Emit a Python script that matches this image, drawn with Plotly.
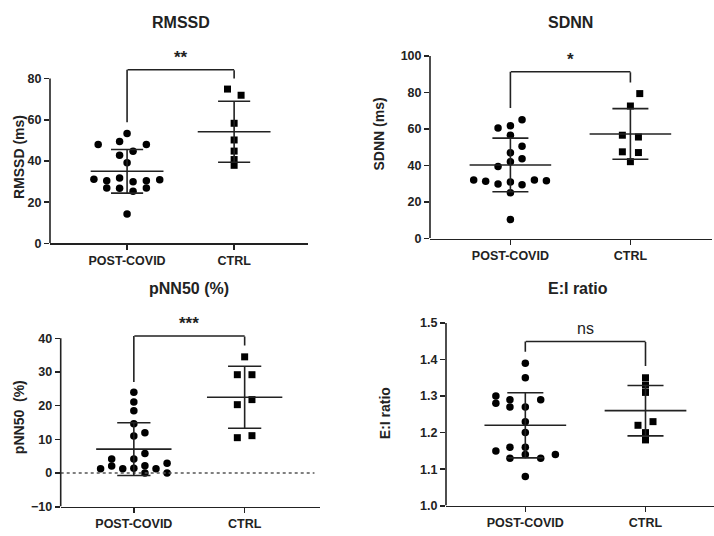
import plotly.graph_objects as go

# ---------------- data ----------------
groups = ["POST-COVID", "CTRL"]

# RMSSD (ms)
rmssd_post = [53.4, 49.4, 48.0, 48.0, 44.7, 42.8, 39.1, 31.2, 30.4, 31.7, 29.9, 30.4, 30.9, 26.9, 26.8, 25.3, 26.9, 14.3]
rmssd_post_jit = [0, -0.07, -0.27, 0.18, 0.056, -0.07, 0, -0.31, -0.19, -0.07, 0.056, 0.18, 0.305, -0.19, -0.07, 0.056, 0.18, 0]
rmssd_ctrl = [74.9, 71.9, 58.3, 50.2, 44.8, 40.7, 37.9]
rmssd_ctrl_jit = [-0.062, 0.065, 0, 0, 0, 0, 0]
rmssd_mean = [35.0, 54.2]
rmssd_sd = [10.6, 14.8]

# SDNN (ms)
sdnn_post = [65.1, 60.6, 61.8, 56.6, 50.5, 47.0, 43.7, 42.1, 39.4, 32.1, 31.4, 29.9, 31.0, 29.4, 32.1, 31.7, 25.1, 10.4]
sdnn_post_jit = [0.097, -0.103, 0, 0, 0.097, 0, 0.097, 0, -0.103, -0.306, -0.206, -0.103, 0, 0.097, 0.2, 0.3, 0, 0]
sdnn_ctrl = [79.4, 72.6, 56.6, 55.6, 47.5, 47.1, 42.1]
sdnn_ctrl_jit = [0.078, 0, -0.067, 0.067, -0.067, 0.067, 0]
sdnn_mean = [40.3, 57.3]
sdnn_sd = [14.7, 13.85]

# pNN50 (%)
pnn_post = [24.0, 21.1, 18.5, 14.6, 12.0, 11.0, 5.8, 4.2, 4.2, 2.1, 2.2, 2.9, 1.3, 1.3, 1.4, 1.3, 0.0, 0.0]
pnn_post_jit = [0, 0, 0, 0, 0.10, 0, 0.10, -0.20, 0, -0.20, 0.10, 0.30, -0.30, -0.10, 0, 0.20, 0.10, 0.30]
pnn_ctrl = [34.5, 29.2, 29.2, 21.8, 20.3, 10.5, 11.1]
pnn_ctrl_jit = [0, -0.066, 0.066, 0.066, -0.066, -0.066, 0.066]
pnn_mean = [7.1, 22.5]
pnn_sd = [7.85, 9.2]

# E:I ratio
ei_post = [1.39, 1.35, 1.30, 1.28, 1.29, 1.27, 1.27, 1.29, 1.23, 1.20, 1.15, 1.16, 1.16, 1.13, 1.14, 1.13, 1.14, 1.08]
ei_post_jit = [0, 0, -0.245, -0.245, -0.128, -0.128, 0, 0.128, 0, 0, -0.245, -0.128, 0, -0.128, 0, 0.128, 0.25, 0]
ei_ctrl = [1.35, 1.33, 1.31, 1.22, 1.23, 1.20, 1.18]
ei_ctrl_jit = [0, 0, 0, -0.0625, 0.0625, 0, 0]
ei_mean = [1.22, 1.26]
ei_sd = [0.089, 0.069]

titles = ["RMSSD", "SDNN", "pNN50 (%)", "E:I ratio"]
ytitles = ["RMSSD (ms)", "SDNN (ms)", "pNN50\u00a0 (%)", "E:I ratio"]
sig_labels = ["**", "*", "***", "ns"]
# bracket: [left leg bottom, top, right leg bottom]
brackets = [[58.6, 84.3, 80.0], [71.3, 91.4, 85.5], [26.9, 40.7, 37.9], [1.42, 1.449, 1.382]]
sig_y = [90.0, 98.0, 44.5, 1.484]
yticks = [[0, 20, 40, 60, 80], [0, 20, 40, 60, 80, 100], [-10, 0, 10, 20, 30, 40],
          [1.0, 1.1, 1.2, 1.3, 1.4, 1.5]]
yrange_top = [95, 102, 47, 1.52]

panels = [
    (rmssd_post, rmssd_post_jit, rmssd_ctrl, rmssd_ctrl_jit, rmssd_mean, rmssd_sd),
    (sdnn_post, sdnn_post_jit, sdnn_ctrl, sdnn_ctrl_jit, sdnn_mean, sdnn_sd),
    (pnn_post, pnn_post_jit, pnn_ctrl, pnn_ctrl_jit, pnn_mean, pnn_sd),
    (ei_post, ei_post_jit, ei_ctrl, ei_ctrl_jit, ei_mean, ei_sd),
]

# ---------------- layout geometry (pixels) ----------------
W, H = 714, 536
x_px = [(50, 308), (430, 712), (60.7, 320), (446, 714)]
# (pixel of lowest tick, pixel of highest tick)
y_px = [(245, 77), (240, 54), (513.3, 341.7), (512.3, 326)]
xranges = [[-0.72, 1.69], [-0.67, 1.68], [-0.66, 1.68], [-0.66, 1.57]]
title_pos = [(181, 20), (570, 20), (189, 291), (578, 291)]
ytitle_pos = [(19, 157), (378, 134), (19, 422), (385, 418)]

INK = "#222222"
FONT = "Arial, Liberation Sans, sans-serif"
LW = 1.6

fig = go.Figure()
annotations = []


def arrow_line(xa, ya, x0, y0, x1, y1):
    return dict(x=x1, y=y1, ax=x0, ay=y0, xref=xa, yref=ya, axref=xa, ayref=ya,
                text="", showarrow=True, arrowhead=0, arrowwidth=LW,
                arrowcolor=INK, borderpad=0, standoff=0, startstandoff=0)


for i, (post, pj, ctrl, cj, mean, sd) in enumerate(panels):
    n = "" if i == 0 else str(i + 1)
    xa, ya = "x" + n, "y" + n
    ymin, ymax = yticks[i][0], yticks[i][-1]
    ytop = yrange_top[i]
    # domains from pixel geometry
    pb, pt = y_px[i]
    scale = (pb - pt) / (ymax - ymin)
    top_px = pb - (ytop - ymin) * scale
    xdom = [x_px[i][0] / W, x_px[i][1] / W]
    ydom = [1 - pb / H, 1 - top_px / H]

    # points
    fig.add_trace(go.Scatter(
        x=[0 + j for j in pj], y=post, mode="markers", xaxis=xa, yaxis=ya,
        marker=dict(symbol="circle", size=7.5, color="black"), showlegend=False, cliponaxis=False))
    fig.add_trace(go.Scatter(
        x=[1 + j for j in cj], y=ctrl, mode="markers", xaxis=xa, yaxis=ya,
        marker=dict(symbol="square", size=7, color="black"), showlegend=False, cliponaxis=False))
    # dotted zero line for pNN50
    if i == 2:
        fig.add_trace(go.Scatter(x=[xranges[i][0], xranges[i][1] - 0.05], y=[0, 0], mode="lines",
                                 xaxis=xa, yaxis=ya,
                                 line=dict(color="#555555", width=1.4, dash="dot"), showlegend=False))
    # mean +- SD
    lx, ly = [], []
    for g in range(2):
        m, s = mean[g], sd[g]
        lx += [g - 0.34, g + 0.34, None, g, g, None, g - 0.15, g + 0.15, None, g - 0.15, g + 0.15, None]
        ly += [m, m, None, m - s, m + s, None, m + s, m + s, None, m - s, m - s, None]
    fig.add_trace(go.Scatter(x=lx, y=ly, mode="lines", xaxis=xa, yaxis=ya,
                             line=dict(color=INK, width=LW), showlegend=False))
    # y spine only from lowest to highest tick
    x0 = xranges[i][0] + 1e-9
    annotations.append(arrow_line(xa, ya, x0, ymin, x0, ymax))
    # bracket
    lb, top, rb = brackets[i]
    annotations.append(arrow_line(xa, ya, 0, lb, 0, top))
    annotations.append(arrow_line(xa, ya, 0, top, 1, top))
    annotations.append(arrow_line(xa, ya, 1, top, 1, rb))
    bold = i != 3
    annotations.append(dict(x=0.5, y=sig_y[i], xref=xa, yref=ya, showarrow=False,
                            xanchor="center", yanchor="middle",
                            text=("<b>%s</b>" % sig_labels[i]) if bold else sig_labels[i],
                            font=dict(family=FONT, size=17 if bold else 16, color=INK)))
    # titles
    tx, ty = title_pos[i]
    annotations.append(dict(x=tx / W, y=1 - ty / H, xref="paper", yref="paper", showarrow=False,
                            xanchor="center", yanchor="middle",
                            text="<b>%s</b>" % titles[i], font=dict(family=FONT, size=16, color=INK)))
    yx, yy = ytitle_pos[i]
    annotations.append(dict(x=yx / W, y=1 - yy / H, xref="paper", yref="paper", showarrow=False,
                            xanchor="center", yanchor="middle",
                            textangle=-90, text="<b>%s</b>" % ytitles[i],
                            font=dict(family=FONT, size=14, color=INK)))

    tick_common = dict(ticks="outside", ticklen=5, tickwidth=LW, tickcolor=INK,
                       showgrid=False, zeroline=False)
    fig.layout["xaxis" + n] = dict(domain=xdom, range=xranges[i], anchor=ya,
                                   showline=True, linecolor=INK, linewidth=LW,
                                   tickvals=[0, 1], ticktext=groups,
                                   tickfont=dict(family=FONT, size=12.5, color=INK, weight="bold"),
                                   **tick_common)
    ylay = dict(domain=ydom, range=[ymin, ytop], anchor=xa, showline=False,
                tickvals=yticks[i],
                tickfont=dict(family=FONT, size=12.5, color=INK, weight="bold"),
                **tick_common)
    if i == 3:
        ylay["tickformat"] = ".1f"
    fig.layout["yaxis" + n] = ylay

fig.update_layout(width=W, height=H, margin=dict(l=0, r=0, t=0, b=0),
                  paper_bgcolor="white", plot_bgcolor="white",
                  annotations=annotations, showlegend=False, hovermode=False)

fig.write_html("out.html", config={"displayModeBar": False, "staticPlot": True},
               post_script="document.body.style.margin='0px';document.body.style.overflow='hidden';")
